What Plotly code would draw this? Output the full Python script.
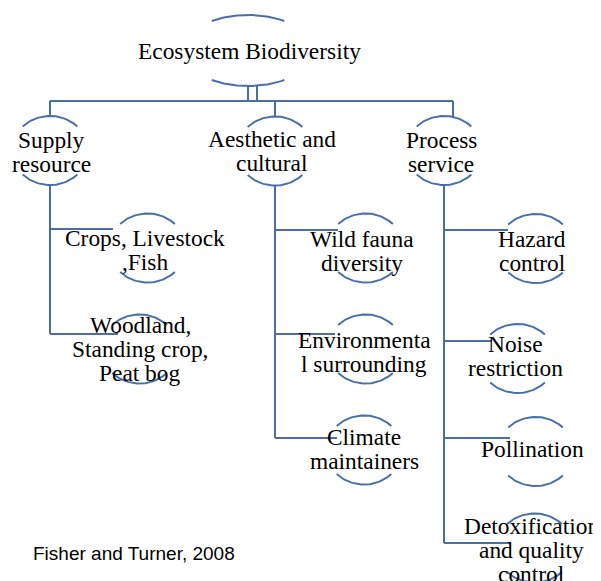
import numpy as np
import plotly.graph_objects as go

# ---------------- data (labels of the hierarchy) ----------------
root_label = ["Ecosystem Biodiversity"]
category_labels = [["Supply", "resource"],
                   ["Aesthetic and", "cultural"],
                   ["Process", "service"]]
service_labels = [
    [["Crops, Livestock", ",Fish"], ["Woodland,", "Standing crop,", "Peat bog"]],
    [["Wild fauna", "diversity"], ["Environmenta", "l surrounding"], ["Climate", "maintainers"]],
    [["Hazard", "control"], ["Noise", "restriction"], ["Pollination"],
     ["Detoxification", "and quality", "control"]],
]
source_note = "Fisher and Turner, 2008"

# ---------------- layout (pixel positions, y downward) ----------------
W, H = 601, 581
PAGE_MARGIN = 8          # default body margin of the html page
LINE = "#4a6fa8"
LW = 2
LINE_GAP = 24
FONT_SIZE = 23.4

root_arc = (248, 50.5, 65, 35.5, 34)          # cx, cy, rx, ry, half-angle
root_text = (249, 51)
root_stems_x = [248, 257]
bar_y = 101

cat_arc = [(50, 150.5), (275, 151), (444, 150.5)]
cat_text = [(51, 139.5), (272, 139), (441, 140)]
cat_drop_x = [50, 275, 453]
trunk_x = [50, 275, 444]

child_arc = [
    [(147.5, 248), (139.5, 349)],
    [(365.5, 248), (365.5, 349), (364, 450)],
    [(535.5, 248.5), (517.5, 358.5), (535.5, 451.5), (534.5, 548)],
]
child_text = [
    [(145, 238), (140, 325)],
    [(362, 238.5), (364, 340), (364, 437)],
    [(532, 238.5), (515, 343.5), (532.5, 449), (531, 525.5)],
]
branch_y = [[229, 334], [230, 334, 438], [230, 341, 438, 543]]
branch_end = [[113, 118], [338, 335, 337], [508, 492, 510, 510]]

RX, RY, HALF = 38, 34.5, 46

fig = go.Figure()


def add_line(xs, ys):
    fig.add_trace(go.Scatter(x=xs, y=ys, mode="lines",
                             line=dict(color=LINE, width=LW),
                             hoverinfo="skip", showlegend=False))


def add_arcs(cx, cy, rx, ry, half):
    t = np.radians(np.linspace(-half, half, 40))
    add_line(cx + rx * np.sin(t), cy - ry * np.cos(t))
    add_line(cx + rx * np.sin(t), cy + ry * np.cos(t))


def add_text(lines, x, y0, size=FONT_SIZE):
    for i, s in enumerate(lines):
        fig.add_annotation(x=x, y=y0 + i * LINE_GAP, text=s, showarrow=False,
                           xanchor="center", yanchor="middle",
                           font=dict(family="Liberation Serif", size=size, color="black"))


# root
cx, cy, rx, ry, half = root_arc
add_arcs(cx, cy, rx, ry, half)
add_text(root_label, *root_text)
for sx in root_stems_x:
    add_line([sx, sx], [cy + ry, bar_y])
add_line([min(cat_drop_x), max(cat_drop_x)], [bar_y, bar_y])

# categories
for k, lab in enumerate(category_labels):
    ax, ay = cat_arc[k]
    add_arcs(ax, ay, RX, RY, HALF)
    add_text(lab, *cat_text[k])
    dx = cat_drop_x[k] - ax
    top = ay - RY * np.sqrt(max(0.0, 1 - (dx / RX) ** 2))
    add_line([cat_drop_x[k], cat_drop_x[k]], [bar_y, top])
    # trunk
    add_line([trunk_x[k], trunk_x[k]], [ay + RY, max(branch_y[k])])
    for j, lab2 in enumerate(service_labels[k]):
        bx, by = child_arc[k][j]
        add_arcs(bx, by, RX, RY, HALF)
        add_line([trunk_x[k], branch_end[k][j]], [branch_y[k][j], branch_y[k][j]])
        add_text(lab2, *child_text[k][j])

fig.add_annotation(x=31, y=553, text=source_note, showarrow=False,
                   xanchor="left", yanchor="middle",
                   font=dict(family="Liberation Sans", size=19, color="black"))

fig.update_layout(width=W - PAGE_MARGIN, height=H - PAGE_MARGIN, autosize=False,
                  margin=dict(l=0, r=0, t=0, b=0),
                  plot_bgcolor="white", paper_bgcolor="white",
                  xaxis=dict(range=[PAGE_MARGIN, W], visible=False, fixedrange=True),
                  yaxis=dict(range=[H, PAGE_MARGIN], visible=False, fixedrange=True))

fig.write_html("out.html")
